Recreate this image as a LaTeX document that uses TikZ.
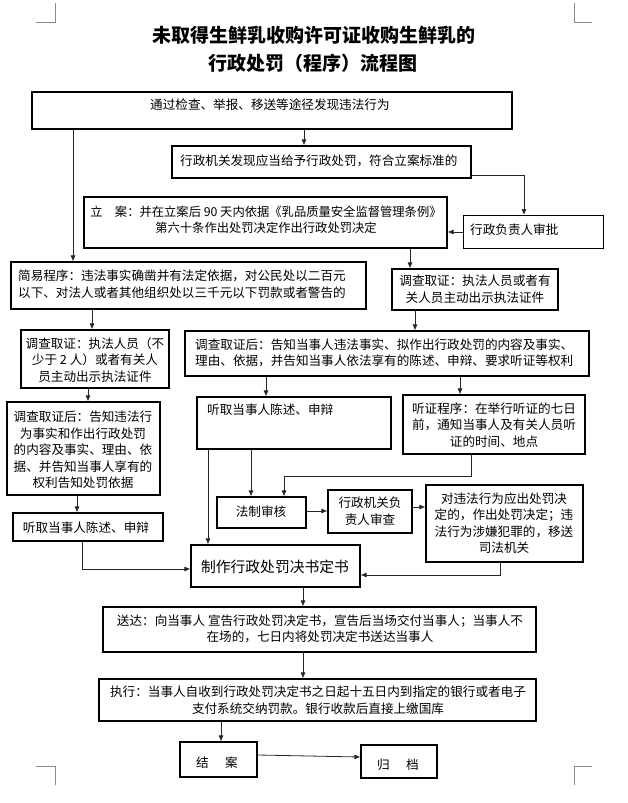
\documentclass[tikz,border=0pt]{standalone}
\usepackage{fontspec}
\setmainfont{Noto Sans CJK SC}
\usetikzlibrary{fit,arrows.meta}
\newcommand\myfs[2]{\fontsize{#1}{#2}\selectfont}
\tikzset{
  box/.style={draw, line width=2.2pt, inner sep=0pt},
  thinbox/.style={draw, line width=0.9pt, inner sep=0pt},
  txt/.style={inner sep=0pt, font=\myfs{12.6pt}{16.5pt}},
  conn/.style={draw, line width=0.8pt, color=black!85},
  arr/.style={conn, -{Triangle[length=5.5pt,width=4.5pt]}},
  cornermark/.style={draw, line width=0.7pt, color=black!45}
}
\begin{document}
\begin{tikzpicture}[x=1pt,y=-1pt]
\useasboundingbox (0,0) rectangle (628,803);
% corner marks
\draw[cornermark] (36,22) -- (55,22) -- (55,3);
\draw[cornermark] (592,22) -- (574,22) -- (574,3);
\draw[cornermark] (36,766) -- (55,766) -- (55,785);
\draw[cornermark] (592,766) -- (574,766) -- (574,785);
% title
\node[inner sep=0pt, font=\myfs{19pt}{22pt}\bfseries] (title1) at (314,35) {未取得生鲜乳收购许可证收购生鲜乳的};
\node[inner sep=0pt, font=\myfs{19pt}{22pt}\bfseries] (title2) at (313,63) {行政处罚（程序）流程图};
% boxes
\node[box, fit={(32,92)(512,129)}] (b1) {};
\node[box, fit={(172,146)(471,178)}] (b2) {};
\node[thinbox, fit={(463,215)(603,248)}] (bSP) {};
\node[box, fit={(84,197)(447,248)}] (bLA) {};
\node[box, fit={(11,262)(366,309)}] (bJY) {};
\node[box, fit={(392,269)(558,310)}] (bDCr) {};
\node[box, fit={(21,330)(169,388)}] (bDCl) {};
\node[box, fit={(185,331)(589,376)}] (bW) {};
\node[box, fit={(197,397)(391,449)}] (bTM) {};
\node[box, fit={(403,395)(585,454)}] (bTZ) {};
\node[box, fit={(7,402)(160,495)}] (bDH) {};
\node[box, fit={(13,513)(163,541)}] (bTL) {};
\node[box, fit={(217,497)(306,528)}] (bFZ) {};
\node[box, fit={(328,490)(412,533)}] (bXZ) {};
\node[box, fit={(426,485)(583,562)}] (bDW) {};
\node[box, fit={(191,545)(360,587)}] (bZZ) {};
\node[box, fit={(103,607)(536,652)}] (bSD) {};
\node[box, fit={(99,679)(536,721)}] (bZX) {};
\node[box, fit={(180,742)(257,777)}] (bJA) {};
\node[box, fit={(361,745)(437,778)}] (bGD) {};
% texts
\node[txt, anchor=west] (t1) at (150,105) {通过检查、举报、移送等途径发现违法行为};
\node[txt, anchor=west] (t2) at (180,161) {行政机关发现应当给予行政处罚，符合立案标准的};
\node[txt, anchor=west] (tSP) at (470,230) {行政负责人审批};
\node[txt, align=center, font=\myfs{12.3pt}{16.5pt}] (tLA) at (266,220) {立\hspace{1em}案：并在立案后 90 天内依据《乳品质量安全监督管理条例》\\第六十条作出处罚决定作出行政处罚决定};
\node[txt, anchor=west, align=left] (tJY) at (18,284) {简易程序：违法事实确凿并有法定依据，对公民处以二百元\\以下、对法人或者其他组织处以三千元以下罚款或者警告的};
\node[txt, align=center] (tDCr) at (475,289) {调查取证：执法人员或者有\\关人员主动出示执法证件};
\node[txt, align=center] (tDCl) at (95,360) {调查取证：执法人员（不\\少于 2 人）或者有关人\\员主动出示执法证件};
\node[txt, anchor=west, align=left] (tW) at (195,353) {调查取证后：告知当事人违法事实、拟作出行政处罚的内容及事实、\\理由、依据，并告知当事人依法享有的陈述、申辩、要求听证等权利};
\node[txt, anchor=west] (tTM) at (207,410) {听取当事人陈述、申辩};
\node[txt, align=center] (tTZ) at (494,425) {听证程序：在举行听证的七日\\前，通知当事人及有关人员听\\证的时间、地点};
\node[txt, align=center] (tDH) at (83,450) {调查取证后：告知违法行\\为事实和作出行政处罚\\的内容及事实、理由、依\\据、并告知当事人享有的\\权利告知处罚依据};
\node[txt] (tTL) at (86,528) {听取当事人陈述、申辩};
\node[txt] (tFZ) at (261,512) {法制审核};
\node[txt, align=center] (tXZ) at (370,511) {行政机关负\\责人审查};
\node[txt, align=center] (tDW) at (504,523) {对违法行为应出处罚决\\定的，作出处罚决定；违\\法行为涉嫌犯罪的，移送\\司法机关};
\node[txt, font=\myfs{14.8pt}{17pt}] (tZZ) at (275,567) {制作行政处罚决书定书};
\node[txt, align=center] (tSD) at (320,629) {送达：向当事人 宣告行政处罚决定书，宣告后当场交付当事人；当事人不\\在场的，七日内将处罚决定书送达当事人};
\node[txt, align=center] (tZX) at (318,700) {执行：当事人自收到行政处罚决定书之日起十五日内到指定的银行或者电子\\支付系统交纳罚款。银行收款后直接上缴国库};
\node[txt] (tJA) at (217,763) {结\hspace{1.3em}案};
\node[txt] (tGD) at (398,765) {归\hspace{1.3em}档};
% connectors
\draw[arr] (304,0 |- b1.south) -- (304,0 |- b2.north);
\draw[arr] (73,0 |- b1.south) -- (73,0 |- bJY.north);
\draw[arr] (b2.east |- 0,175) -- (524,175) -- (524,0 |- bSP.north);
\draw[arr] (bSP.west |- 0,232) -- (bLA.east |- 0,232);
\draw[arr] (410,0 |- bLA.south) -- (410,0 |- bDCr.north);
\draw[arr] (92,0 |- bJY.south) -- (92,0 |- bDCl.north);
\draw[arr] (415,0 |- bDCr.south) -- (415,0 |- bW.north);
\draw[arr] (266,0 |- bW.south) -- (266,0 |- bTM.north);
\draw[arr] (460,0 |- bW.south) -- (460,0 |- bTZ.north);
\draw[arr] (88,0 |- bDCl.south) -- (88,0 |- bDH.north);
\draw[arr] (77,0 |- bDH.south) -- (77,0 |- bTL.north);
\draw[arr] (208,0 |- bTM.south) -- (208,0 |- bZZ.north);
\draw[arr] (251,0 |- bTM.south) -- (251,0 |- bFZ.north);
\draw[arr] (471,0 |- bTZ.south) -- (471,476) -- (284,476) -- (284,0 |- bFZ.north);
\draw[arr] (bFZ.east |- 0,511) -- (bXZ.west |- 0,511);
\draw[arr] (bXZ.east |- 0,507) -- (bDW.west |- 0,507);
\draw[arr] (82,0 |- bTL.south) -- (82,569) -- (bZZ.west |- 0,569);
\draw[arr] (500,0 |- bDW.south) -- (500,575) -- (bZZ.east |- 0,575);
\draw[arr] (303,0 |- bZZ.south) -- (303,0 |- bSD.north);
\draw[arr] (303,0 |- bSD.south) -- (303,0 |- bZX.north);
\draw[arr] (221,0 |- bZX.south) -- (221,0 |- bJA.north);
\draw[arr] (bJA.east |- 0,755) -- (bGD.west |- 0,757);
\end{tikzpicture}
\end{document}
